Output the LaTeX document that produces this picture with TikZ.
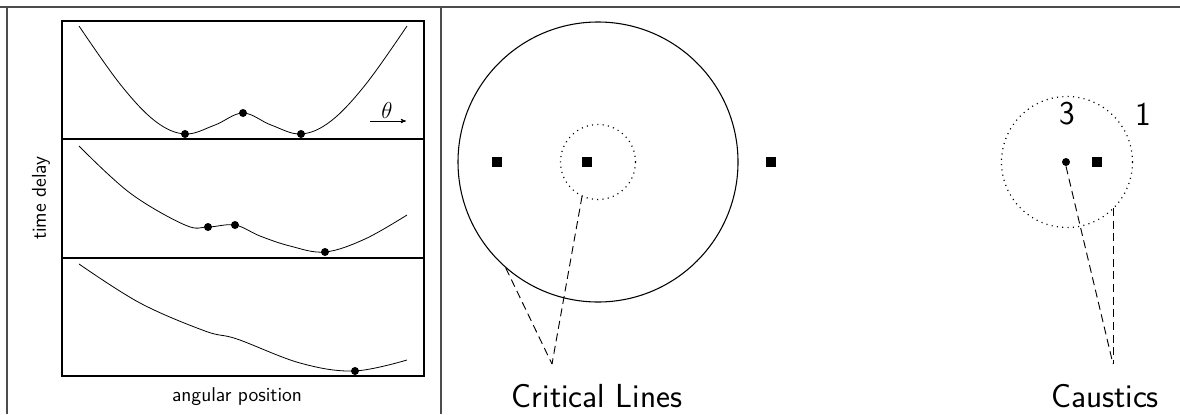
\documentclass[tikz,border=0pt]{standalone}
\usepackage{tikz}
\usetikzlibrary{positioning,arrows}

\tikzset{
  dot/.style={circle, fill, inner sep=0pt, minimum size=6pt},
  img/.style={rectangle, fill, inner sep=0pt, minimum size=6.8pt},
  crit/.style={circle, draw, inner sep=0pt},
  dots/.style={dash pattern=on 0.8pt off 3.2pt, line width=0.9pt},
  guide/.style={dash pattern=on 6pt off 3.5pt, line width=0.7pt},
  biglbl/.style={font=\sffamily\fontsize{25}{28}\selectfont},
  axlbl/.style={font=\sffamily\fontsize{15}{17}\selectfont}
}

\begin{document}
\begin{tikzpicture}[x=0.75pt, y=-0.75pt, line width=0.6pt]
\useasboundingbox (0,0) rectangle (1180,414);

% frame
\draw[line width=0.8pt, black!70] (0,7) -- (1180,7);
\draw[line width=0.8pt, black!70] (7,7) -- (7,414);
\draw[line width=0.8pt, black!70] (441,7) -- (441,414);

% left panel: time delay surfaces
\draw[line width=0.8pt] (62,21) rectangle (424,376);
\draw[line width=0.8pt] (62,139) -- (424,139);
\draw[line width=0.8pt] (62,258) -- (424,258);

\draw plot[smooth, tension=0.6] coordinates {(79,26) (120,84) (155,121) (185,134) (215,125) (243,113) (271,125) (301,134) (331,121) (366,84) (407,26)};
\draw plot[smooth, tension=0.6] coordinates {(79,146) (130,193) (185,225) (208,227) (235,225) (260,236) (290,246) (325,252) (365,239) (407,215)};
\draw plot[smooth, tension=0.6] coordinates {(79,264) (140,303) (205,331) (237,339) (300,363) (354,371) (407,360)};

\node[dot] (a1) at (185,134) {};
\node[dot] (a2) at (243,113) {};
\node[dot] (a3) at (301,134) {};
\node[dot] (b1) at (208,227) {};
\node[dot] (b2) at (235,225) {};
\node[dot] (b3) at (325,252) {};
\node[dot] (c1) at (355,371) {};

\node (theta) at (387,110) {\fontsize{17}{19}\selectfont$\theta$};
\coordinate (th0) at (370,121);
\coordinate (th1) at (406,121);
\draw[->, >=stealth', line width=0.5pt] (th0) -- (th1);

\node[axlbl, rotate=90] (tdel) at (41,198) {time delay};
\node[axlbl] (apos) at (237,397) {angular position};

% middle panel: critical lines
\node[crit, minimum size=210pt, line width=0.8pt] (tang) at (598,162) {};
\node[crit, minimum size=56pt, draw=none] (radl) at (598,162) {};
\draw[dots] (598,162) circle[radius=37.5];

\node[img] (i1) at (497,162) {};
\node[img] (i2) at (587,162) {};
\node[img] (i3) at (771,162) {};

\node[biglbl] (critlbl) at (597,396) {Critical Lines};
\coordinate (capL) at (552,364);
\draw[guide] (tang.229) -- (capL);
\draw[guide] (radl.245) -- (capL);

% right panel: caustics
\node[crit, minimum size=98pt, draw=none] (caus) at (1067,162) {};
\draw[dots] (1067,162) circle[radius=65.5];

\node[dot] (src) at (1066,162) {};
\node[img] (s2) at (1097,162) {};

\node[biglbl] (n3) at (1067,114) {3};
\node[biglbl] (n1) at (1143,114) {1};

\node[biglbl] (caulbl) at (1105,396) {Caustics};
\coordinate (capR) at (1113,364);
\coordinate (capRt) at (1113,208);
\draw[guide] (src.south) -- (capR);
\draw[guide] (capRt) -- (capR);
\end{tikzpicture}
\end{document}
